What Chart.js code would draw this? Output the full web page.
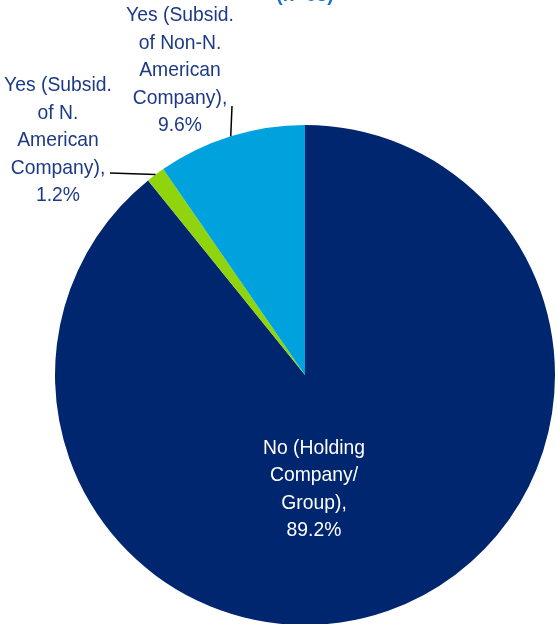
<!DOCTYPE html>
<html>
<head>
<meta charset="utf-8">
<script src="https://cdn.jsdelivr.net/npm/chart.js@4.4.1/dist/chart.umd.min.js"></script>
<style>
  html, body { margin: 0; padding: 0; background: #ffffff; overflow: hidden; width: 558px; height: 624px; }
  canvas { display: block; }
</style>
</head>
<body>
<canvas id="pie" width="558" height="640"></canvas>
<script>
// Ownership status of respondents (n=83)
const categories = [
  'No (Holding Company/ Group)',
  'Yes (Subsid. of N. American Company)',
  'Yes (Subsid. of Non-N. American Company)'
];
const shares = [89.2, 1.2, 9.6];
const sliceColors = ['#00266f', '#8fd40c', '#00a2dd'];
const titleText = '(n=83)';

// Multi-line label text for each slice
const labelLines = [
  ['No (Holding', 'Company/', 'Group),', '89.2%'],
  ['Yes (Subsid.', 'of N.', 'American', 'Company),', '1.2%'],
  ['Yes (Subsid.', 'of Non-N.', 'American', 'Company),', '9.6%']
];

// Slightly condensed sans text: taller glyphs, narrower advance
const FONT = '21px "Liberation Sans", Arial, sans-serif';
const X_SCALE = 0.92;

// Label placement: text centre x and first baseline, plus the outer end of the leader line
const labelLayout = [
  { x: 314, y: 454, color: '#ffffff', lineH: 27.3, leader: null },
  { x: 58,  y: 91,  color: '#1d3a87', lineH: 27.5, leader: [[110, 173]] },
  { x: 180, y: 21,  color: '#1d3a87', lineH: 27.6, leader: [[232, 106]] }
];

function drawText(ctx, text, x, y) {
  ctx.save();
  ctx.translate(x, y);
  ctx.scale(X_SCALE, 1);
  ctx.fillText(text, 0, 0);
  ctx.restore();
}

const labelPlugin = {
  id: 'sliceLabels',
  afterDatasetsDraw(chart) {
    const ctx = chart.ctx;
    const meta = chart.getDatasetMeta(0);
    ctx.save();
    meta.data.forEach((arc, i) => {
      const p = arc.getProps(['x', 'y', 'startAngle', 'endAngle', 'outerRadius'], true);
      const lay = labelLayout[i];
      if (lay.leader) {
        const mid = (p.startAngle + p.endAngle) / 2;
        const ex = p.x + Math.cos(mid) * p.outerRadius;
        const ey = p.y + Math.sin(mid) * p.outerRadius;
        ctx.beginPath();
        ctx.moveTo(ex, ey);
        lay.leader.forEach(pt => ctx.lineTo(pt[0], pt[1]));
        ctx.strokeStyle = '#000000';
        ctx.lineWidth = 1.5;
        ctx.stroke();
      }
      ctx.font = FONT;
      ctx.fillStyle = lay.color;
      ctx.textAlign = 'center';
      ctx.textBaseline = 'alphabetic';
      labelLines[i].forEach((line, k) => {
        drawText(ctx, line, lay.x, lay.y + k * lay.lineH);
      });
    });
    // Chart title, sitting at the very top edge
    ctx.font = 'bold 21px "Liberation Sans", Arial, sans-serif';
    ctx.fillStyle = '#1a6fcb';
    ctx.textAlign = 'center';
    drawText(ctx, titleText, meta.data[0].x, 1);
    ctx.restore();
  }
};

new Chart(document.getElementById('pie'), {
  type: 'pie',
  data: {
    labels: categories,
    datasets: [{
      data: shares,
      backgroundColor: sliceColors,
      borderWidth: 0
    }]
  },
  options: {
    responsive: false,
    animation: false,
    rotation: 0,
    layout: { padding: { left: 55, right: 3, top: 125, bottom: 15 } },
    plugins: {
      legend: { display: false },
      tooltip: { enabled: false },
      title: { display: false }
    }
  },
  plugins: [labelPlugin]
});
</script>
</body>
</html>
